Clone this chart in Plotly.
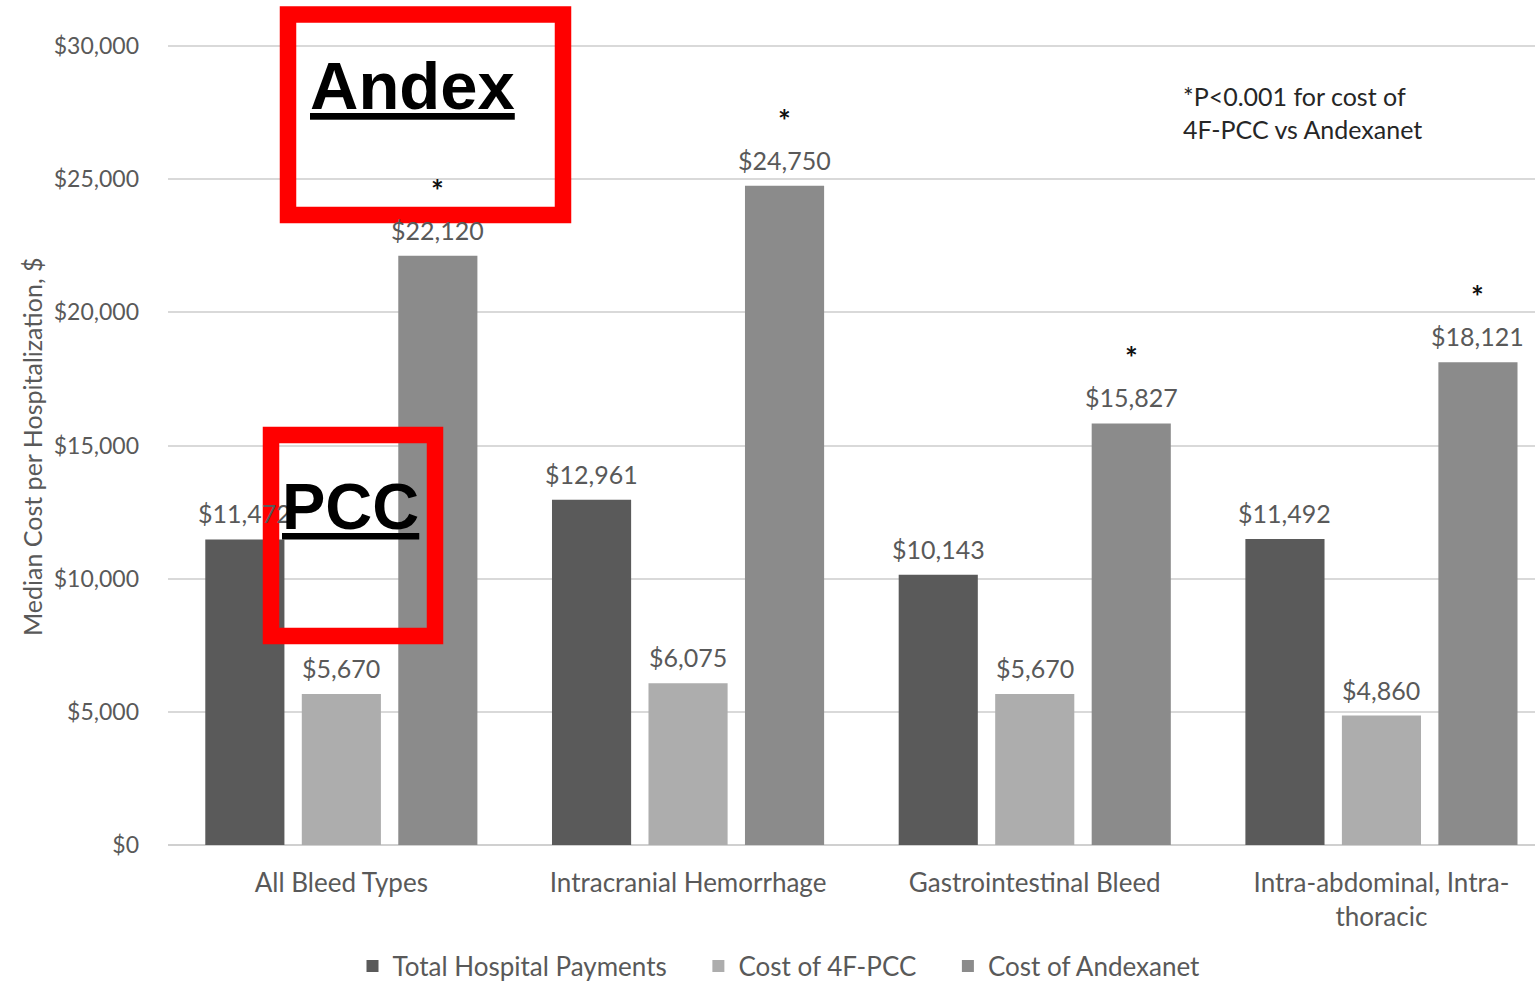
import plotly.graph_objects as go

# data
categories = ['All Bleed Types', 'Intracranial Hemorrhage', 'Gastrointestinal Bleed',
              'Intra-abdominal, Intra-<br>thoracic']
total_payments = [11472, 12961, 10143, 11492]
cost_pcc = [5670, 6075, 5670, 4860]
cost_andexanet = [22120, 24750, 15827, 18121]
series_names = ['Total Hospital Payments', 'Cost of 4F-PCC', 'Cost of Andexanet']
y_ticks = [0, 5000, 10000, 15000, 20000, 25000, 30000]

W, H = 1535, 983
L, T, B = 168, 20, 138
PW, PH = W - L, H - T - B
Y_TOP = 30976


def px(x):
    return (x - L) / PW


def py(y):
    return (H - B - y) / PH


colors = ['#5a5a5a', '#adadad', '#8b8b8b']
gray_txt = '#595959'
font = 'Lato, Carlito, Calibri, sans-serif'
pad = '\u00a0' * 4  # spacing between legend entries

fig = go.Figure()
for k, (name, vals, col) in enumerate(zip(series_names, [total_payments, cost_pcc, cost_andexanet], colors)):
    fig.add_trace(go.Bar(x=categories, y=vals, name=name + (pad if k < 2 else ''),
                         marker=dict(color=col, line=dict(width=0))))

# value labels above bars (slot offsets follow bargap/bargroupgap)
bargap = 0.165
slot = (1 - bargap) / 3
offsets = [-slot, 0, slot]
annotations = []
for s, vals in enumerate([total_payments, cost_pcc, cost_andexanet]):
    for i, v in enumerate(vals):
        annotations.append(dict(x=i + offsets[s], y=v, xref='x', yref='y', text='${:,}'.format(v),
                                showarrow=False, xanchor='center', yanchor='middle', yshift=26,
                                font=dict(family=font, size=25, color=gray_txt)))
# significance stars over Andexanet bars
for i, v in enumerate(cost_andexanet):
    annotations.append(dict(x=i + offsets[2], y=v, xref='x', yref='y', text='<b>*</b>', showarrow=False,
                            xanchor='center', yanchor='middle', yshift=66,
                            font=dict(family=font, size=30, color='#111111')))

annotations += [
    dict(x=px(32), y=py(447), xref='paper', yref='paper', text='Median Cost per Hospitalization, $',
         textangle=-90, showarrow=False, xanchor='center', yanchor='middle',
         font=dict(family=font, size=25, color=gray_txt)),
    dict(x=px(1181), y=py(96), xref='paper', yref='paper', text='*P<0.001 for cost of', xanchor='left',
         yanchor='middle', showarrow=False, font=dict(family=font, size=25, color='#262626')),
    dict(x=px(1181), y=py(129), xref='paper', yref='paper', text='4F-PCC vs Andexanet', xanchor='left',
         yanchor='middle', showarrow=False, font=dict(family=font, size=25, color='#262626')),
    dict(x=px(412), y=py(86), xref='paper', yref='paper', text='<b><u>Andex</u></b>',
         xanchor='center', yanchor='middle', showarrow=False,
         font=dict(family='Liberation Sans, Arial', size=67, color='black')),
    dict(x=px(350), y=py(506), xref='paper', yref='paper', text='<b><u>PCC</u></b>',
         xanchor='center', yanchor='middle', showarrow=False,
         font=dict(family='Liberation Sans, Arial', size=65, color='black')),
]

shapes = [
    dict(type='rect', xref='paper', yref='paper', x0=px(288), x1=px(563), y0=py(14.5), y1=py(215),
         line=dict(color='#ff0000', width=16.5), layer='above'),
    dict(type='rect', xref='paper', yref='paper', x0=px(271), x1=px(435), y0=py(435), y1=py(636),
         line=dict(color='#ff0000', width=16.5), layer='above'),
]

fig.update_layout(
    width=W, height=H,
    margin=dict(l=L, r=0, t=T, b=B, autoexpand=False),
    paper_bgcolor='white', plot_bgcolor='white',
    barmode='group', bargap=bargap, bargroupgap=0.18,
    font=dict(family=font, color=gray_txt),
    annotations=annotations, shapes=shapes,
    legend=dict(orientation='h', x=px(779), xanchor='center', y=py(966), yanchor='middle',
                font=dict(family=font, size=26, color=gray_txt), itemsizing='constant',
                traceorder='normal', itemwidth=30),
    showlegend=True,
)
fig.update_xaxes(range=[-0.5, -0.5 + PW / 346.7], showgrid=False, showline=False, ticks='',
                 tickfont=dict(family=font, size=26, color=gray_txt), ticklabelstandoff=20)
fig.update_yaxes(range=[0, Y_TOP], tickvals=y_ticks, ticktext=['${:,}'.format(t) for t in y_ticks],
                 gridcolor='#d9d9d9', gridwidth=2, zeroline=True, zerolinecolor='#d0d0d0', zerolinewidth=2,
                 tickfont=dict(family=font, size=23, color=gray_txt), ticklabelstandoff=28)

fig.write_html('out.html', config={'displayModeBar': False},
               post_script="document.body.style.margin='0';")
